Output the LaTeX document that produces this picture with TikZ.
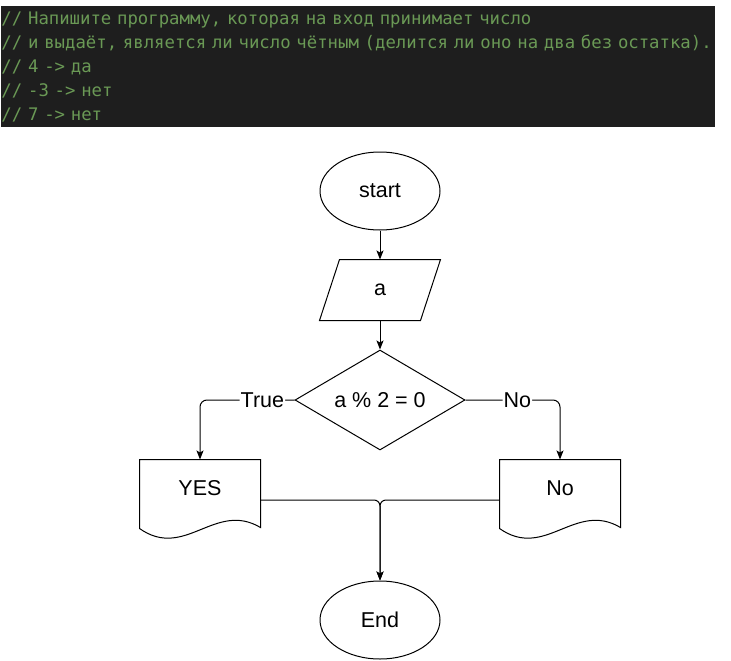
\documentclass[tikz,border=0pt]{standalone}
\usepackage{fontspec}
\setmainfont{Liberation Sans}
\newfontfamily\codefont{DejaVu Sans Mono}
\usetikzlibrary{positioning, shapes.geometric, arrows.meta}

\definecolor{codebg}{HTML}{1E1E1E}
\definecolor{codegreen}{HTML}{6A9955}

% slanted outline of an input node
\newcommand{\inoutline}[1]{%
    \draw ([xshift=20]#1.north west) -- (#1.north east)
	-- ([xshift=-20]#1.south east) -- (#1.south west) -- cycle;
}

% wavy bottom of a document node
\newcommand{\docoutline}[1]{%
    \draw (#1.north west) -- (#1.north east) -- ([yshift=-11]#1.south east)
	.. controls ([shift={(15,16)}]#1.south) and ([shift={(-15,-44)}]#1.south) ..
	([yshift=-12]#1.south west) -- cycle;
}

\begin{document}
\begin{tikzpicture}[
    x=1pt, y=1pt,
    line width=1pt,
    font=\fontsize{21.5}{25}\selectfont,
    term/.style={
	draw,
	ellipse,
	minimum width=120,
	minimum height=78
    },
    inbox/.style={
	minimum width=120,
	minimum height=60
    },
    decision/.style={
	draw,
	diamond,
	aspect=1.7,
	minimum width=170,
	minimum height=100
    },
    docbox/.style={
	minimum width=120,
	minimum height=56
    },
    lbl/.style={
	fill=white,
	inner sep=1pt
    },
    >={Stealth[length=9pt,width=7pt,inset=2pt]}
]
	\useasboundingbox (0,0) rectangle (731,-661);

	% Task comment
	\node[fill=codebg, text=codegreen, anchor=north west,
	    minimum width=714, minimum height=120, inner xsep=1pt,
	    text width=712, align=left,
	    font=\codefont\fontsize{17.3}{24}\selectfont] (code) at (0,-6) {%
	    // Напишите программу, которая на вход принимает число\\
	    // и выдаёт, является ли число чётным (делится ли оно на два без остатка).\\
	    // 4 -> да\\
	    // -3 -> нет\\
	    // 7 -> нет};

	% Flow chart
	\node[term] (start) at (380,-191) {start};
	\node[inbox, below=29 of start] (inp) {a};
	\node[decision, below=29 of inp] (dec) {a \% 2 = 0};
	\node[docbox, below=9 of dec, xshift=-180] (yes) {YES};
	\node[docbox, below=9 of dec, xshift=180] (no) {No};
	\node[term, below=130 of dec] (end) {End};

	\inoutline{inp}
	\docoutline{yes}
	\docoutline{no}

	\draw[->] (start) -- (inp);
	\draw[->] (inp) -- (dec);

	% Branches
	\draw[->, rounded corners=7] (dec.west) -| (yes.north)
	    node[lbl, pos=0.17]{True};
	\draw[->, rounded corners=7] (dec.east) -| (no.north)
	    node[lbl, pos=0.274]{No};

	% Merge into End
	\draw[->, rounded corners=6] ([yshift=-12]yes.east) -| (end.north);
	\draw[->, rounded corners=6] ([yshift=-12]no.west) -| (end.north);
\end{tikzpicture}
\end{document}
